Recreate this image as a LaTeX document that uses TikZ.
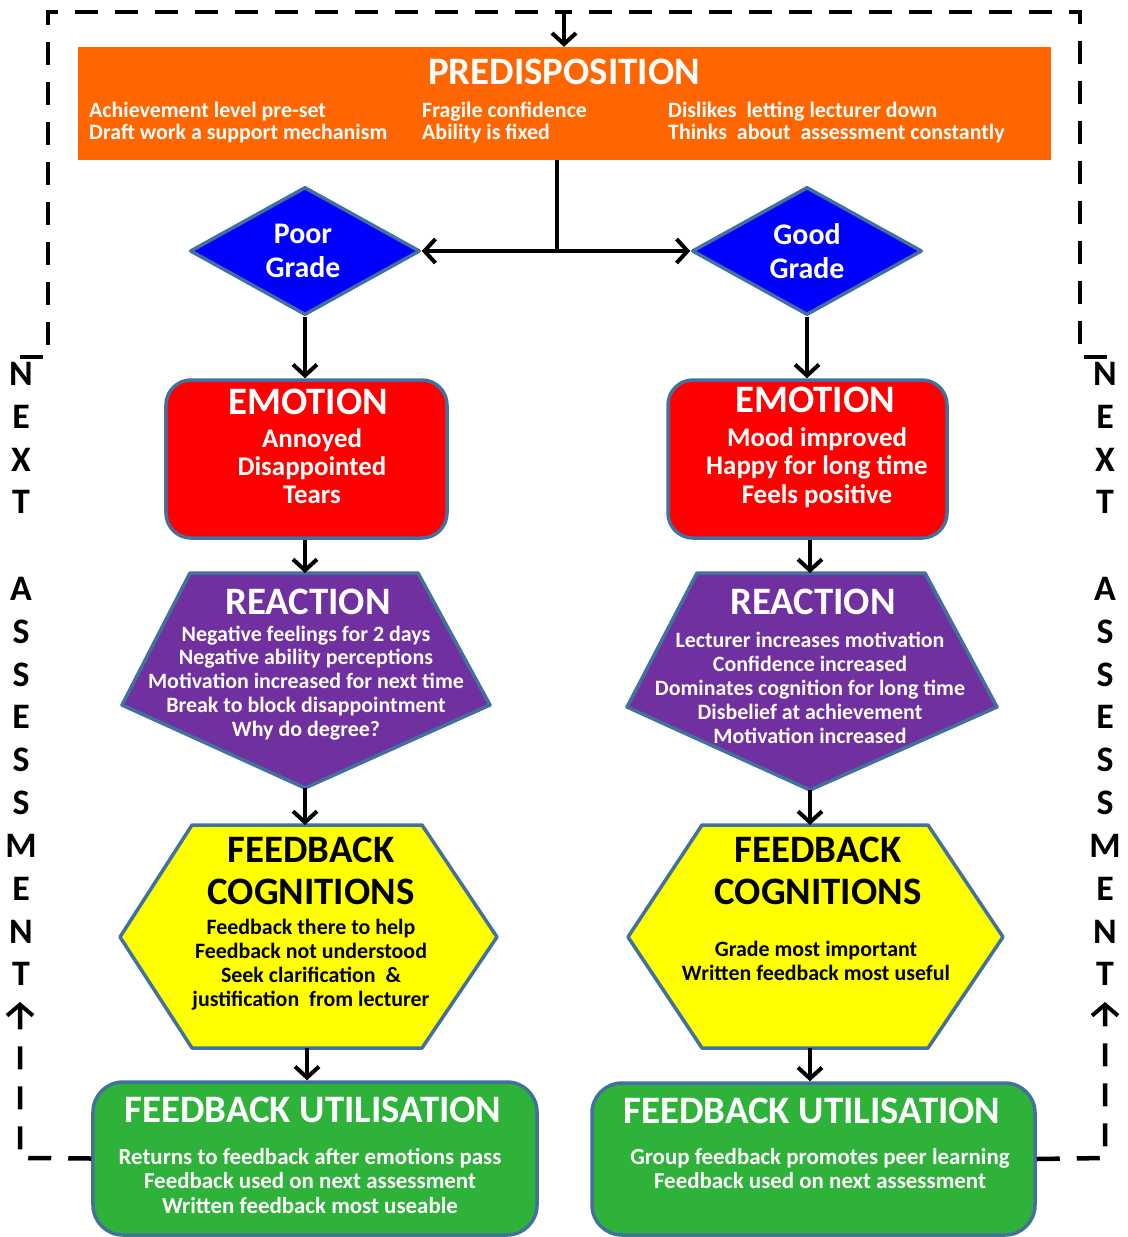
\documentclass[tikz,border=0pt]{standalone}
\usepackage{fontspec}
\setmainfont{Carlito}
\usetikzlibrary{arrows.meta,shapes.geometric}
\definecolor{orangeF}{HTML}{FF6600}
\definecolor{blueF}{HTML}{0000FF}
\definecolor{redF}{HTML}{FF0000}
\definecolor{purpleF}{HTML}{7030A0}
\definecolor{yellowF}{HTML}{FFFF00}
\definecolor{greenF}{RGB}{46,178,58}
\definecolor{edgeB}{HTML}{41719C}
\begin{document}
\begin{tikzpicture}[x=1bp,y=-1bp,
  outl/.style={draw=edgeB,line width=3.5bp,line join=round},
  conn/.style={line width=4bp,-{Straight Barb[length=11bp,width=24bp]}},
  loopline/.style={line width=4.5bp,dash pattern=on 23bp off 17bp},
  headW/.style={text=white,font=\bfseries\fontsize{39}{42}\selectfont,inner sep=0pt,align=center},
  headK/.style={text=black,font=\bfseries\fontsize{39}{42}\selectfont,inner sep=0pt,align=center},
  bodyW/.style={text=white,font=\bfseries\fontsize{22}{24}\selectfont,inner sep=0pt,align=center},
  bodyK/.style={text=black,font=\bfseries\fontsize{22}{24}\selectfont,inner sep=0pt,align=center},
  side/.style={text=black,font=\bfseries\fontsize{36}{43}\selectfont,inner sep=0pt,align=center},
  roundbox/.style={outl,rectangle,inner sep=0pt}
]
\useasboundingbox[fill=white] (0,0) rectangle (1128,1237);

% predisposition
\node[fill=orangeF,minimum width=973bp,minimum height=113bp,inner sep=0pt] (pre) at (564.5,103.5) {};
\node[headW] (preT) at (564,72) {PREDISPOSITION};
\node[bodyW,align=left,anchor=west,font=\bfseries\fontsize{22}{23}\selectfont] (preA) at (89,122.5) {Achievement level pre-set\\Draft work a support mechanism};
\node[bodyW,align=left,anchor=west,font=\bfseries\fontsize{22}{23}\selectfont] (preB) at (422,122.5) {Fragile confidence\\Ability is fixed};
\node[bodyW,align=left,anchor=west,font=\bfseries\fontsize{22}{23}\selectfont] (preC) at (668,122.5) {Dislikes\ \ letting lecturer down\\Thinks\ \ about\ \ assessment constantly};

% diamonds
\node[diamond,outl,fill=blueF,minimum width=230bp,minimum height=128bp,inner sep=0pt] (pg) at (305,251) {};
\node[bodyW,font=\bfseries\fontsize{30}{34}\selectfont] (pgT) at (303,251) {Poor\\Grade};
\node[diamond,outl,fill=blueF,minimum width=230bp,minimum height=128bp,inner sep=0pt] (gg) at (807,251) {};
\node[bodyW,font=\bfseries\fontsize{30}{34}\selectfont] (ggT) at (807,251) {Good\\Grade};

% split connector
\coordinate (split) at (557,251);
\draw[line width=4bp] (pre.south -| split) -- (split);
\draw[conn] (split) -- (pg.east);
\draw[conn] (split) -- (gg.west);

% emotion
\node[roundbox,fill=redF,rounded corners=25bp,minimum width=281bp,minimum height=158bp] (el) at (306.5,459) {};
\node[headW] (elT) at (308,402) {EMOTION};
\node[bodyW,font=\bfseries\fontsize{27}{28}\selectfont] (elB) at (312,466) {Annoyed\\Disappointed\\Tears};
\node[roundbox,fill=redF,rounded corners=25bp,minimum width=279bp,minimum height=158bp] (er) at (807.5,459) {};
\node[headW] (erT) at (815,400) {EMOTION};
\node[bodyW,font=\bfseries\fontsize{27}{28.5}\selectfont] (erB) at (817,467.5) {Mood improved\\Happy for long time\\Feels positive};

\draw[conn] (pg.south) -- (pg.south |- el.north);
\draw[conn] (gg.south) -- (gg.south |- er.north);

% reaction pentagons
\draw[outl,fill=purpleF] (190,573) -- (418,573) -- (490,705) -- (305,788) -- (122,705) -- cycle;
\coordinate (rlN) at (305,573);
\coordinate (rlS) at (305,788);
\node[headW] (rlT) at (308,602) {REACTION};
\node[bodyW] (rlB) at (306,683) {Negative feelings for 2 days\\Negative ability perceptions\\Motivation increased for next time\\Break to block disappointment\\Why do degree?};
\draw[outl,fill=purpleF] (697,573) -- (925,573) -- (997,707) -- (810,790) -- (627,707) -- cycle;
\coordinate (rrN) at (810,573);
\coordinate (rrS) at (810,790);
\node[headW] (rrT) at (813,602) {REACTION};
\node[bodyW] (rrB) at (810,688) {Lecturer increases motivation\\Confidence increased\\Dominates cognition for long time\\Disbelief at achievement\\Motivation increased};

\draw[conn] (el.south -| rlN) -- (rlN);
\draw[conn] (er.south -| rrN) -- (rrN);

% feedback cognitions hexagons
\draw[outl,fill=yellowF] (192,825) -- (422,825) -- (497,937) -- (422,1048) -- (192,1048) -- (120,937) -- cycle;
\coordinate (hlN) at (305,825);
\coordinate (hlS) at (307,1048);
\node[headK] (hlT) at (311,871) {FEEDBACK\\COGNITIONS};
\node[bodyK] (hlB) at (311,965) {Feedback there to help\\Feedback not understood\\Seek clarification\ \ \&\\justification\ \ from lecturer};
\draw[outl,fill=yellowF] (702,825) -- (928,825) -- (1003,937) -- (928,1048) -- (702,1048) -- (628,937) -- cycle;
\coordinate (hrN) at (810,825);
\coordinate (hrS) at (810,1048);
\node[headK] (hrT) at (818,871) {FEEDBACK\\COGNITIONS};
\node[bodyK] (hrB) at (816,961) {Grade most important\\Written feedback most useful};

\draw[conn] (rlS) -- (rlS |- hlN);
\draw[conn] (rrS) -- (rrS |- hrN);

% feedback utilisation
\node[roundbox,fill=greenF,rounded corners=30bp,minimum width=444bp,minimum height=153bp] (gl) at (315,1158.5) {};
\node[headW] (glT) at (313,1110) {FEEDBACK UTILISATION};
\node[bodyW,font=\bfseries\fontsize{23}{25}\selectfont] (glB) at (310,1181) {Returns to feedback after emotions pass\\Feedback used on next assessment\\Written feedback most useable};
\node[roundbox,fill=greenF,rounded corners=30bp,minimum width=443bp,minimum height=152bp] (gr) at (813.5,1159) {};
\node[headW] (grT) at (812,1111) {FEEDBACK UTILISATION};
\node[bodyW,font=\bfseries\fontsize{23}{25}\selectfont] (grB) at (820,1168.5) {Group feedback promotes peer learning\\Feedback used on next assessment};

\draw[conn] (hlS) -- (hlS |- gl.north);
\draw[conn] (hrS) -- (hrS |- gr.north);

% side texts
\node[side] (lNext) at (21,438) {N\\E\\X\\T};
\node[side] (lAss) at (21,781.5) {A\\S\\S\\E\\S\\S\\M\\E\\N\\T};
\node[side] (rNext) at (1105,438) {N\\E\\X\\T};
\node[side] (rAss) at (1105,781.5) {A\\S\\S\\E\\S\\S\\M\\E\\N\\T};

% next assessment loop
\coordinate (lb1) at (20,1158);
\coordinate (lb2) at (20,1002);
\coordinate (lt1) at (20,357);
\coordinate (lt2) at (48,357);
\coordinate (lt3) at (48,12);
\coordinate (tm) at (564,12);
\coordinate (rb1) at (1105,1158);
\coordinate (rb2) at (1105,1002);
\coordinate (rt1) at (1107,357);
\coordinate (rt2) at (1080,357);
\coordinate (rt3) at (1080,12);
\draw[loopline,-{Straight Barb[length=11bp,width=26bp,line width=4bp]}] (gl.west) -- (lb1) -- (lb2);
\draw[loopline,-{Straight Barb[length=11bp,width=26bp,line width=4bp]}] (gr.east) -- (rb1) -- (rb2);
\draw[loopline] (lt1) -- (lt2) -- (lt3) -- (tm);
\draw[loopline] (rt1) -- (rt2) -- (rt3) -- (tm);
\draw[conn] (tm) -- (tm |- pre.north);
\end{tikzpicture}
\end{document}
